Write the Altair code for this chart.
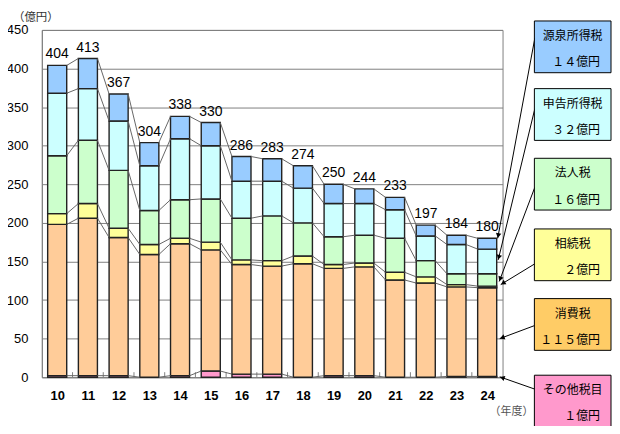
import math
import altair as alt
import pandas as pd

# ---------------- data ----------------
years = ["10", "11", "12", "13", "14", "15", "16", "17", "18", "19", "20", "21", "22", "23", "24"]
series = ["その他税目", "消費税", "相続税", "法人税", "申告所得税", "源泉所得税"]
other = [2, 2, 2, 0, 2, 8, 4, 4, 0, 2, 2, 0, 0, 1, 1]
consumption = [196, 204, 179, 159, 171, 157, 142, 140, 147, 139, 141, 126, 122, 116, 115]
inheritance = [14, 19, 12, 13, 7, 10, 6, 7, 10, 5, 5, 10, 8, 3, 2]
corporate = [75, 82, 75, 44, 50, 56, 54, 58, 43, 36, 36, 44, 21, 14, 16]
declared = [81, 67, 64, 58, 79, 69, 48, 45, 45, 43, 41, 37, 32, 38, 32]
withholding = [36, 39, 35, 30, 29, 30, 32, 29, 29, 25, 19, 16, 14, 12, 14]
totals = [404, 413, 367, 304, 338, 330, 286, 283, 274, 250, 244, 233, 197, 184, 180]
bar_colors = ["#FF99CC", "#FFCC99", "#FFFF99", "#CCFFCC", "#CCFFFF", "#99CCFF"]
box_colors = ["#FF99CC", "#FFCC66", "#FFFF99", "#CCFFCC", "#CCFFFF", "#99CCFF"]
# where each callout arrow points on the last bar (億円)
arrow_targets = [0.5, 50, 120, 124, 152, 180]

values = [other, consumption, inheritance, corporate, declared, withholding]

# ---------------- layout ----------------
W, H = 463, 349
N = len(years)
HALF = 0.31
FONT = "Liberation Sans, Arial, Noto Sans CJK JP, sans-serif"
JFONT = "Noto Sans CJK JP, sans-serif"
GRAY = "#808080"

xs = alt.Scale(domain=[-0.5, N - 0.5], nice=False, zero=False)
ys = alt.Scale(domain=[0, 450], nice=False)
label_expr = "[" + ",".join(f"'{y}'" for y in years) + "][datum.value]"
AX = alt.Axis(values=list(range(N)), labelExpr=label_expr, ticks=False, grid=False, title=None,
              labelFontWeight="bold", labelFontSize=13, labelPadding=12, labelFont=FONT,
              domainColor=GRAY, labelColor="#000000")
AY = alt.Axis(values=list(range(0, 451, 50)), ticks=False, grid=True, gridColor=GRAY, title=None,
              labelFontSize=13, labelPadding=14, labelFont=FONT, domainColor=GRAY,
              labelColor="#000000")


def px(x):
    return (x + 0.5) / N * W


def py(v):
    return H - v / 450 * H


def dx_(p):  # pixel -> data x
    return p / W * N - 0.5


def dy_(p):  # pixel -> data y
    return (H - p) / H * 450


# stacked segments
seg_rows = []
tops = [[0] * N for _ in series]
for i in range(N):
    cum = 0
    for k, s in enumerate(series):
        y0 = cum
        cum += values[k][i]
        tops[k][i] = cum
        if values[k][i] > 0:
            seg_rows.append(dict(i=i, xl=i - HALF, xr=i + HALF, y0=y0, y1=cum, s=s))
segs = pd.DataFrame(seg_rows)

# series (connector) lines
line_rows = []
for k in range(len(series)):
    for i in range(N - 1):
        line_rows.append(dict(x=i + HALF, x2=i + 1 - HALF, y=tops[k][i], y2=tops[k][i + 1]))
lines = pd.DataFrame(line_rows)

tot = pd.DataFrame(dict(i=list(range(N)), total=totals))
ticks = pd.DataFrame(dict(b=[i + 0.5 for i in range(N - 1)], y0=[0] * (N - 1), y1=[6.5] * (N - 1)))

# callout boxes (top to bottom: reversed series order)
fw = str.maketrans("0123456789", "０１２３４５６７８９")
box_tops = [-9, 59, 129, 200, 270, 347]
start_off = [17, 20, 29, 35, 27, 14]
end_dx = [1, 1.5, 2.5, 4, 3, 3]
box_rows = []
arrow_rows = []
last = N - 1
for j, k in enumerate(reversed(range(len(series)))):
    top = box_tops[j]
    amt = str(values[k][last]).translate(fw) + "億円"
    if len(str(values[k][last])) == 1:
        amt = "　" + amt
    box_rows.append(dict(name=series[k], amt=amt, col=box_colors[k],
                         x0=dx_(495), x1=dx_(572), y0=dy_(top), y1=dy_(top + 52),
                         tx=dx_(533.5), ty1=dy_(top + 15), tx2=dx_(561), ty2=dy_(top + 41.5)))
    sx, sy = 495.5, top + start_off[j]
    ex, ey = px(last + HALF) + end_dx[j], py(arrow_targets[k])
    ddx, ddy = ex - sx, ey - sy
    L = math.hypot(ddx, ddy)
    ang = math.degrees(math.atan2(ddx, -ddy)) % 360
    arrow_rows.append(dict(sx=dx_(sx), sy=dy_(sy), ex=dx_(ex), ey=dy_(ey), ang=ang,
                           hx=dx_(ex - ddx / L * 3.5), hy=dy_(ey - ddy / L * 3.5)))
boxes = pd.DataFrame(box_rows)
arrows = pd.DataFrame(arrow_rows)
units = pd.DataFrame(dict(t=["（億円）", "（年度）"], x=[dx_(-29), dx_(450)], y=[dy_(-12), dy_(384)],
                          fs=[11.5, 11], c=["#333333", "#555555"]))

# ---------------- chart ----------------
bars = alt.Chart(segs).mark_rect(stroke="#222222", strokeWidth=1.4).encode(
    x=alt.X("xl:Q", scale=xs, axis=AX), x2="xr:Q",
    y=alt.Y("y0:Q", scale=ys, axis=AY), y2="y1:Q",
    color=alt.Color("s:N", scale=alt.Scale(domain=series, range=bar_colors), legend=None),
)

conn = alt.Chart(lines).mark_rule(color="#666666", strokeWidth=1).encode(
    x=alt.X("x:Q", scale=xs, axis=AX), x2="x2:Q",
    y=alt.Y("y:Q", scale=ys, axis=AY), y2="y2:Q",
)

inner_ticks = alt.Chart(ticks).mark_rule(color=GRAY, strokeWidth=1).encode(
    x=alt.X("b:Q", scale=xs, axis=AX),
    y=alt.Y("y0:Q", scale=ys, axis=AY), y2="y1:Q",
)

labels = alt.Chart(tot).mark_text(baseline="bottom", dy=-4, fontSize=14, font=FONT, color="#000000").encode(
    x=alt.X("i:Q", scale=xs, axis=AX),
    y=alt.Y("total:Q", scale=ys, axis=AY),
    text="total:Q",
)

box_layer = alt.Chart(boxes).mark_rect(stroke="#000000", strokeWidth=1).encode(
    x=alt.X("x0:Q", scale=xs, axis=AX), x2="x1:Q",
    y=alt.Y("y0:Q", scale=ys, axis=AY), y2="y1:Q",
    fill=alt.Fill("col:N", scale=None),
)
box_t1 = alt.Chart(boxes).mark_text(fontSize=12, font=JFONT, color="#000000", align="center",
                                    baseline="middle").encode(
    x=alt.X("tx:Q", scale=xs, axis=AX), y=alt.Y("ty1:Q", scale=ys, axis=AY), text="name:N")
box_t2 = alt.Chart(boxes).mark_text(fontSize=12, font=JFONT, color="#000000", align="right",
                                    baseline="middle").encode(
    x=alt.X("tx2:Q", scale=xs, axis=AX), y=alt.Y("ty2:Q", scale=ys, axis=AY), text="amt:N")

arrow_lines = alt.Chart(arrows).mark_rule(color="#000000", strokeWidth=1).encode(
    x=alt.X("sx:Q", scale=xs, axis=AX), x2="ex:Q",
    y=alt.Y("sy:Q", scale=ys, axis=AY), y2="ey:Q",
)
arrow_heads = alt.Chart(arrows).mark_point(shape="triangle", filled=True, color="#000000", size=30,
                                           opacity=1).encode(
    x=alt.X("hx:Q", scale=xs, axis=AX), y=alt.Y("hy:Q", scale=ys, axis=AY),
    angle=alt.Angle("ang:Q", scale=None),
)

unit_text = alt.Chart(units).mark_text(font=JFONT, align="left", baseline="middle").encode(
    x=alt.X("x:Q", scale=xs, axis=AX), y=alt.Y("y:Q", scale=ys, axis=AY),
    text="t:N", size=alt.Size("fs:Q", scale=None), color=alt.Color("c:N", scale=None),
)

chart = alt.layer(
    bars, inner_ticks, conn, labels, arrow_lines, arrow_heads, box_layer, box_t1, box_t2, unit_text
).properties(
    width=W, height=H,
    autosize=alt.AutoSizeParams(type="none"),
    padding={"left": 34, "top": 21, "right": 110, "bottom": 48},
).configure_view(stroke=GRAY, strokeWidth=1).configure_axis(domainWidth=1)

chart.save("out.html", embed_options={"renderer": "svg", "actions": False})
